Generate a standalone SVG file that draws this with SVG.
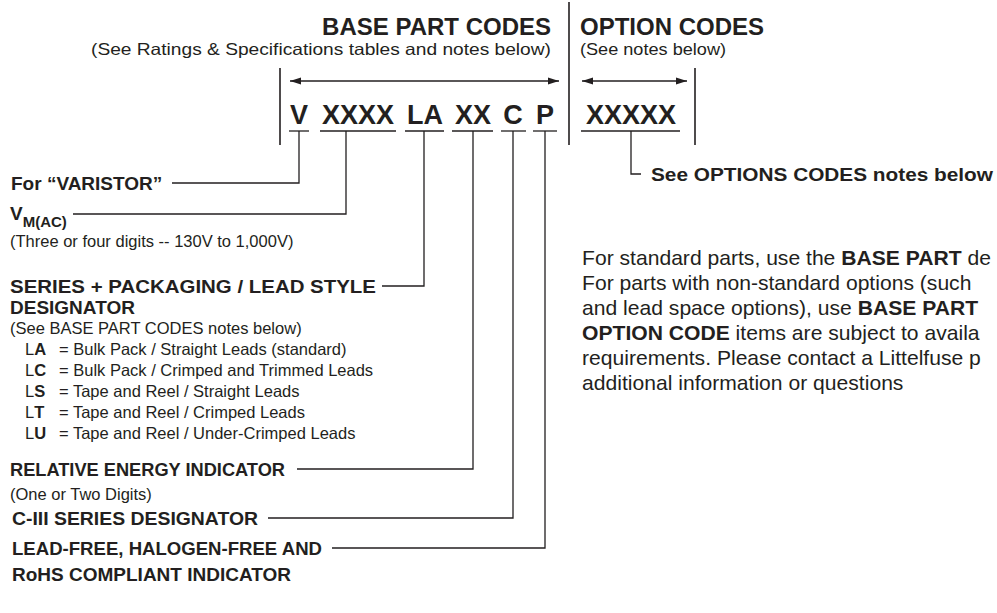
<svg xmlns="http://www.w3.org/2000/svg" width="997" height="613" viewBox="0 0 997 613">
<style>
text{font-family:"Liberation Sans",Arial,sans-serif;fill:#231f20}
.b{font-weight:bold}
.t{font-size:24px;font-weight:bold}
.s{font-size:16.5px}
.c{font-size:27px;font-weight:bold;text-anchor:middle}
.l{font-size:19px;font-weight:bold}
.r{font-size:16.5px}
.p{font-size:20.5px}
.ln{stroke:#231f20;stroke-width:1.3;fill:none}
.bar{stroke:#231f20;stroke-width:1.6;fill:none}
</style>
<defs>
<marker id="ah" viewBox="0 0 11 8" refX="11" refY="4" markerWidth="11" markerHeight="8" markerUnits="userSpaceOnUse" orient="auto-start-reverse">
<path d="M0,0.5 L11,4 L0,7.5 z" fill="#231f20"/>
</marker>
</defs>
<rect width="997" height="613" fill="#fff"/>

<g id="header-base">
<text class="t" x="551" y="35" text-anchor="end">BASE PART CODES</text>
<text class="s" x="91" y="55" textLength="460" lengthAdjust="spacingAndGlyphs">(See Ratings &amp; Specifications tables and notes below)</text>
</g>
<g id="header-option">
<text class="t" x="580" y="35">OPTION CODES</text>
<text class="s" x="580" y="55" textLength="146" lengthAdjust="spacingAndGlyphs">(See notes below)</text>
</g>

<g id="frame">
<line class="bar" x1="280" y1="68" x2="280" y2="145"/>
<line class="bar" x1="569" y1="2" x2="569" y2="145"/>
<line class="bar" x1="695" y1="68" x2="695" y2="145"/>
<line class="ln" x1="290" y1="81" x2="559" y2="81" marker-start="url(#ah)" marker-end="url(#ah)"/>
<line class="ln" x1="582" y1="81" x2="687" y2="81" marker-start="url(#ah)" marker-end="url(#ah)"/>
</g>

<g id="code-V"><text class="c" x="299" y="124">V</text><line class="ln" x1="289" y1="131" x2="309" y2="131"/></g>
<g id="code-XXXX"><text class="c" x="358" y="124">XXXX</text><line class="ln" x1="320" y1="131" x2="396" y2="131"/></g>
<g id="code-LA"><text class="c" x="425" y="124">LA</text><line class="ln" x1="405" y1="131" x2="444" y2="131"/></g>
<g id="code-XX"><text class="c" x="473" y="124">XX</text><line class="ln" x1="452" y1="131" x2="493" y2="131"/></g>
<g id="code-C"><text class="c" x="513" y="124">C</text><line class="ln" x1="501" y1="131" x2="526" y2="131"/></g>
<g id="code-P"><text class="c" x="545" y="124">P</text><line class="ln" x1="533" y1="131" x2="557" y2="131"/></g>
<g id="code-XXXXX"><text class="c" x="631" y="124">XXXXX</text><line class="ln" x1="581" y1="131" x2="680" y2="131"/></g>

<g id="connectors">
<path class="ln" d="M299,131 V183 H172"/>
<path class="ln" d="M346,131 V214 H73"/>
<path class="ln" d="M424,131 V286 H382"/>
<path class="ln" d="M473,131 V469 H297"/>
<path class="ln" d="M513,131 V518 H268"/>
<path class="ln" d="M545,131 V548 H332"/>
<path class="ln" d="M631,131 V174 H641"/>
</g>

<g id="label-varistor"><text class="l" x="11" y="190">For “VARISTOR”</text></g>
<g id="label-vm">
<text class="l" x="10" y="220">V<tspan font-size="15" dy="7">M(AC)</tspan></text>
<text class="r" x="10" y="247">(Three or four digits -- 130V to 1,000V)</text>
</g>
<g id="label-series">
<text class="l" x="10" y="293" textLength="366" lengthAdjust="spacingAndGlyphs">SERIES + PACKAGING / LEAD STYLE</text>
<text class="l" x="10" y="314">DESIGNATOR</text>
<text class="r" x="10" y="334">(See BASE PART CODES notes below)</text>
<text class="r" x="25" y="355">L<tspan class="b">A</tspan><tspan x="59">= Bulk Pack / Straight Leads (standard)</tspan></text>
<text class="r" x="25" y="376">L<tspan class="b">C</tspan><tspan x="59">= Bulk Pack / Crimped and Trimmed Leads</tspan></text>
<text class="r" x="25" y="397">L<tspan class="b">S</tspan><tspan x="59">= Tape and Reel / Straight Leads</tspan></text>
<text class="r" x="25" y="418">L<tspan class="b">T</tspan><tspan x="59">= Tape and Reel / Crimped Leads</tspan></text>
<text class="r" x="25" y="439">L<tspan class="b">U</tspan><tspan x="59">= Tape and Reel / Under-Crimped Leads</tspan></text>
</g>
<g id="label-energy">
<text class="l" x="10" y="476" textLength="275" lengthAdjust="spacingAndGlyphs">RELATIVE ENERGY INDICATOR</text>
<text class="r" x="10" y="500">(One or Two Digits)</text>
</g>
<g id="label-ciii"><text class="l" x="12" y="525" textLength="246" lengthAdjust="spacingAndGlyphs">C-III SERIES DESIGNATOR</text></g>
<g id="label-leadfree">
<text class="l" x="12" y="555" textLength="310" lengthAdjust="spacingAndGlyphs">LEAD-FREE, HALOGEN-FREE AND</text>
<text class="l" x="12" y="581">RoHS COMPLIANT INDICATOR</text>
</g>
<g id="label-options"><text class="l" x="651" y="181" textLength="342" lengthAdjust="spacingAndGlyphs">See OPTIONS CODES notes below</text></g>

<g id="note" transform="translate(582,0) scale(1.03,1)">
<text class="p" x="0" y="265">For standard parts, use the <tspan class="b">BASE PART</tspan> de</text>
<text class="p" x="0" y="290">For parts with non-standard options (such</text>
<text class="p" x="0" y="315">and lead space options), use <tspan class="b">BASE PART</tspan></text>
<text class="p" x="0" y="340"><tspan class="b">OPTION CODE</tspan> items are subject to availa</text>
<text class="p" x="0" y="365">requirements. Please contact a Littelfuse p</text>
<text class="p" x="0" y="390">additional information or questions</text>
</g>
</svg>
